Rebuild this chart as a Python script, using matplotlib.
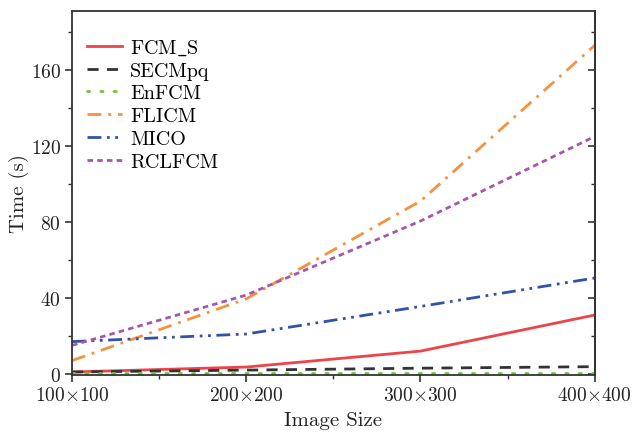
import matplotlib
matplotlib.use('Agg')
import matplotlib.pyplot as plt
from matplotlib.ticker import MultipleLocator

plt.rcParams['font.family'] = ['cmr10', 'DejaVu Serif']
plt.rcParams['mathtext.fontset'] = 'cm'
plt.rcParams['axes.unicode_minus'] = False
plt.rcParams['axes.formatter.use_mathtext'] = True

# image sizes (side length in pixels)
sizes = [100, 200, 300, 400]
size_labels = [r'$100{\times}100$', r'$200{\times}200$', r'$300{\times}300$', r'$400{\times}400$']

# running time in seconds for each method
fcm_s = [1.0, 3.6, 12.0, 31.0]
secmpq = [1.0, 2.0, 3.0, 3.8]
enfcm = [0.3, 0.3, 0.3, 0.3]
flicm = [7.0, 39.5, 91.0, 173.0]
mico = [17.0, 21.0, 35.5, 50.5]
rclfcm = [15.0, 41.5, 80.5, 125.0]

fig = plt.figure(figsize=(6.32, 4.35), dpi=100)
ax = fig.add_axes([0.114, 0.136, 0.827, 0.836])

ax.plot(sizes, fcm_s, color='#ee4449', lw=2.0, ls='-', label=r'$\mathrm{FCM\_S}$')
ax.plot(sizes, secmpq, color='#333333', lw=2.0, ls=(0, (4, 3)), label='SECMpq')
ax.plot(sizes, enfcm, color='#6cc640', lw=2.0, ls=(0, (0.8, 4)), dash_capstyle='round', label='EnFCM')
ax.plot(sizes, flicm, color='#f7913f', lw=2.0, ls=(0, (5, 2.5, 1, 2.5)), label='FLICM')
ax.plot(sizes, mico, color='#3252a8', lw=2.0, ls=(0, (5, 2, 1, 2, 1, 2)), label='MICO')
ax.plot(sizes, rclfcm, color='#a558ab', lw=2.0, ls=(0, (2, 1.5)), label='RCLFCM')

ax.set_xlim(100, 400)
ax.set_ylim(-0.5, 191)
ax.set_xticks(sizes)
ax.set_xticklabels(size_labels)
ax.xaxis.set_minor_locator(MultipleLocator(50))
ax.yaxis.set_major_locator(MultipleLocator(40))
ax.yaxis.set_minor_locator(MultipleLocator(20))

for s in ax.spines.values():
    s.set_color('#333333')
    s.set_linewidth(1.3)

ax.tick_params(which='major', direction='out', length=5, width=1.2, labelsize=14,
               color='#333333', labelcolor='#222222', pad=3)
ax.tick_params(which='minor', direction='out', length=3, width=1.0, color='#333333')

# inward ticks on the right edge, no labels
sec = ax.secondary_yaxis('right')
sec.yaxis.set_major_locator(MultipleLocator(40))
sec.yaxis.set_minor_locator(MultipleLocator(20))
sec.tick_params(which='major', direction='in', length=5, width=1.2, labelright=False, color='#333333')
sec.tick_params(which='minor', direction='in', length=3, width=1.0, color='#333333')
sec.spines['right'].set_color('#333333')
sec.spines['right'].set_linewidth(1.3)

ax.set_xlabel('Image Size', fontsize=15, color='#222222', labelpad=5)
ax.set_ylabel('Time (s)', fontsize=15, color='#222222', labelpad=1)

ax.legend(loc='upper left', bbox_to_anchor=(0.013, 0.95), borderaxespad=0, frameon=False,
          fontsize=14.5, handlelength=1.75, labelspacing=0.23, handletextpad=0.4)

fig.savefig('out.png', dpi=100)
